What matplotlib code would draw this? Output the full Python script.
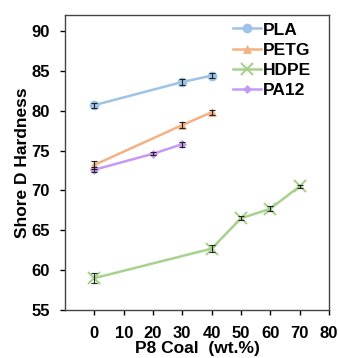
import matplotlib
matplotlib.use("Agg")
import matplotlib.pyplot as plt

plt.rcParams['font.family'] = ['Liberation Sans', 'DejaVu Sans']

pla_x = [0, 30, 40]
pla_y = [80.7, 83.6, 84.4]
pla_e = [0.3, 0.35, 0.3]

petg_x = [0, 30, 40]
petg_y = [73.2, 78.2, 79.8]
petg_e = [0.45, 0.35, 0.3]

hdpe_x = [0, 40, 50, 60, 70]
hdpe_y = [59.0, 62.7, 66.5, 67.7, 70.5]
hdpe_e = [0.6, 0.4, 0.25, 0.3, 0.2]

pa12_x = [0, 20, 30]
pa12_y = [72.6, 74.6, 75.8]
pa12_e = [0.3, 0.2, 0.3]

xticks = [0, 10, 20, 30, 40, 50, 60, 70, 80]
yticks = [55, 60, 65, 70, 75, 80, 85, 90]

fig = plt.figure(figsize=(3.39, 3.58), dpi=100)
ax = fig.add_axes([0.192, 0.134, 0.778, 0.824])

series = [
    ("PLA", pla_x, pla_y, pla_e, "#9DC3E6", "o", 6.5),
    ("PETG", petg_x, petg_y, petg_e, "#F4B183", "^", 6),
    ("HDPE", hdpe_x, hdpe_y, hdpe_e, "#A9D18E", "x", 8),
    ("PA12", pa12_x, pa12_y, pa12_e, "#C59AF2", "D", 4),
]
for name, x, y, e, c, m, ms in series:
    ax.plot(x, y, color=c, marker=m, markersize=ms, lw=1.8, label=name,
            markeredgewidth=1.5 if m == "x" else 0.5, markeredgecolor=c)
    ax.errorbar(x, y, yerr=e, fmt='none', ecolor='#222222', elinewidth=0.8,
                capsize=2, capthick=0.8, zorder=5)

ax.set_xlim(-10, 80)
ax.set_ylim(55, 92)
ax.set_xticks(xticks)
ax.set_yticks(yticks)
ax.tick_params(direction='out', length=3.8, width=1, labelsize=12, colors='black')
ax.tick_params(axis='x', pad=7.5)
ax.tick_params(axis='y', pad=7)
for lab in ax.get_xticklabels() + ax.get_yticklabels():
    lab.set_fontweight('bold')
for s in ax.spines.values():
    s.set_color('#444444')
    s.set_linewidth(1)

ax.set_xlabel("P8 Coal  (wt.%)", fontsize=12.5, fontweight='bold', labelpad=0)
ax.set_ylabel("Shore D Hardness", fontsize=12.5, fontweight='bold', labelpad=1)

leg = ax.legend(loc='upper left', bbox_to_anchor=(0.638, 0.975), frameon=False,
                prop={'weight': 'bold', 'size': 12.5}, handlelength=1.6,
                handletextpad=0.12, labelspacing=0.28, borderaxespad=0, borderpad=0)

fig.savefig("out.png", dpi=100)
